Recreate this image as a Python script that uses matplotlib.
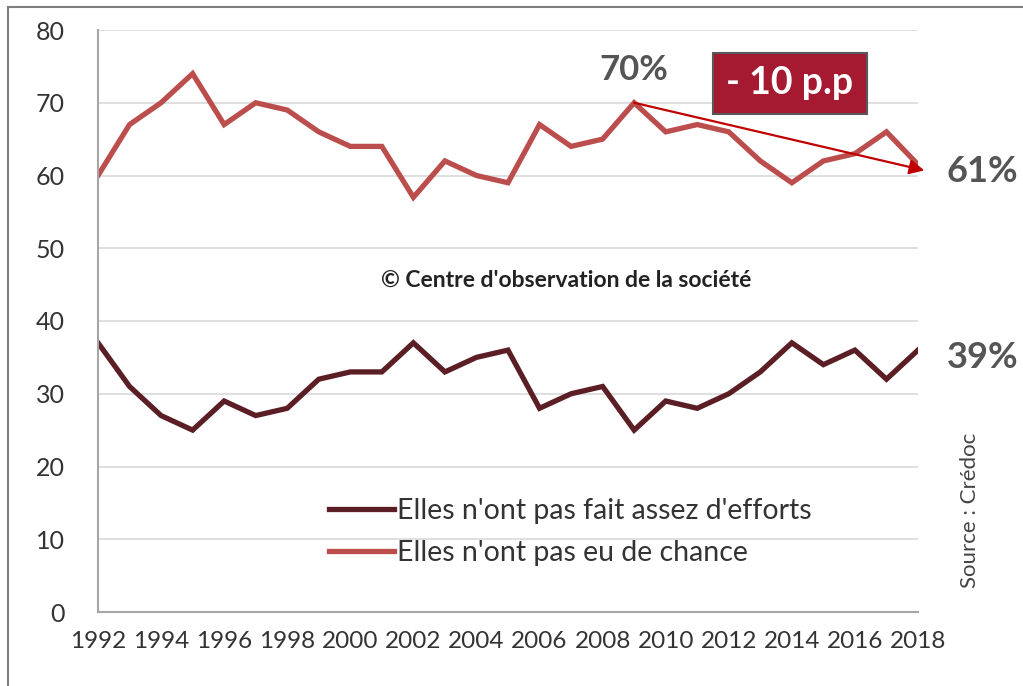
import numpy as np
import matplotlib
matplotlib.use('Agg')
import matplotlib.pyplot as plt
from matplotlib.lines import Line2D

plt.rcParams['font.family'] = ['Lato', 'DejaVu Sans']

years = np.arange(1992, 2019)
chance = [60, 67, 70, 74, 67, 70, 69, 66, 64, 64, 57, 62, 60, 59,
          67, 64, 65, 70, 66, 67, 66, 62, 59, 62, 63, 66, 61.5]
efforts = [37, 31, 27, 25, 29, 27, 28, 32, 33, 33, 37, 33, 35, 36,
           28, 30, 31, 25, 29, 28, 30, 33, 37, 34, 36, 32, 36]
label_efforts = "Elles n'ont pas fait assez d'efforts"
label_chance = "Elles n'ont pas eu de chance"

fig = plt.figure(figsize=(10.23, 6.86), dpi=100)
ax = fig.add_axes([98/1023, 1 - 612/686, 820/1023, 582/686])

ax.plot(years, efforts, color='#5a1e24', lw=3.8, label=label_efforts, solid_joinstyle='miter')
ax.plot(years, chance, color='#bb4d4d', lw=3.8, label=label_chance, solid_joinstyle='miter')

ax.set_xlim(1992, 2018)
ax.set_ylim(0, 80)
ax.set_yticks(np.arange(0, 81, 10))
ax.set_xticks(np.arange(1992, 2019, 2))
ax.grid(axis='y', color='#d9d9d9', lw=1.2)
ax.set_axisbelow(True)
for s in ['top', 'right']:
    ax.spines[s].set_visible(False)
ax.spines['left'].set_color('#a6a6a6')
ax.spines['bottom'].set_color('#a6a6a6')
ax.spines['left'].set_linewidth(1.5)
ax.spines['bottom'].set_linewidth(1.5)
ax.tick_params(axis='y', length=0, pad=24, labelsize=18, labelcolor='#333333')
ax.tick_params(axis='x', length=0, pad=14, labelsize=17.5, labelcolor='#333333')

leg = ax.legend(loc='upper left', bbox_to_anchor=(0.25, 0.24), frameon=False,
                fontsize=20.5, handlelength=2.3, handletextpad=0.1, labelspacing=0.55)
for t in leg.get_texts():
    t.set_color('#333333')

# annotations
ax.annotate('', xy=(2018.2, 60.7), xytext=(2009, 70), annotation_clip=False,
            arrowprops=dict(arrowstyle='-|>', color='#c00000', lw=1.6,
                            mutation_scale=22, shrinkA=0, shrinkB=0))
ax.text(2009, 72.3, '70%', fontsize=25, fontweight='bold', color='#555555',
        ha='center', va='bottom')
fig.text(947/1023, 1 - 172/686, '61%', fontsize=26, fontweight='bold',
         color='#555555', ha='left', va='center')
fig.text(947/1023, 1 - 357/686, '39%', fontsize=26, fontweight='bold',
         color='#555555', ha='left', va='center')
fig.text(790/1023, 1 - 83/686, '- 10 p.p', fontsize=27, fontweight='bold',
         color='white', ha='center', va='center',
         bbox=dict(boxstyle='square,pad=0.36', fc='#a51931', ec='#595959', lw=1.5))
fig.text(566/1023, 1 - 280/686, "\u00a9 Centre d'observation de la soci\u00e9t\u00e9",
         fontsize=16.5, fontweight='bold', color='#222222', ha='center', va='center')
fig.text(970/1023, 1 - 510/686, 'Source : Cr\u00e9doc', fontsize=16, color='#444444',
         rotation=90, ha='center', va='center')

# outer frame
fig.add_artist(Line2D([8/1023, 8/1023], [0, 1 - 7/686], transform=fig.transFigure,
                      color='#7f7f7f', lw=1.5))
fig.add_artist(Line2D([8/1023, 1], [1 - 7/686, 1 - 7/686], transform=fig.transFigure,
                      color='#7f7f7f', lw=1.5))

fig.savefig('out.png', dpi=100)
